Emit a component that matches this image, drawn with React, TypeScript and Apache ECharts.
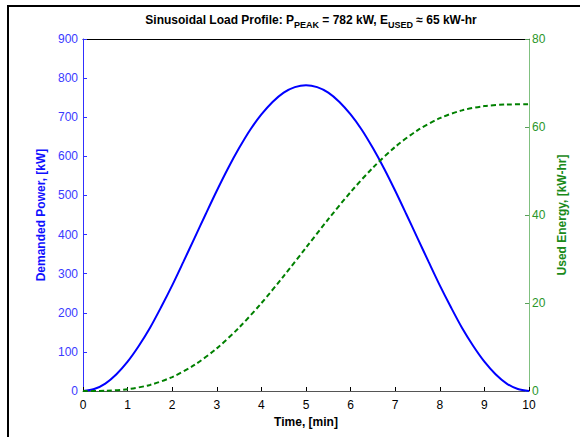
import React, { useEffect, useRef } from "react";
import * as echarts from "echarts";

const powerTime = [0, 0.25, 0.5, 0.75, 1, 1.25, 1.5, 1.75, 2, 2.25, 2.5, 2.75, 3, 3.25, 3.5, 3.75, 4, 4.25, 4.5, 4.75, 5, 5.25, 5.5, 5.75, 6, 6.25, 6.5, 6.75, 7, 7.25, 7.5, 7.75, 8, 8.25, 8.5, 8.75, 9, 9.25, 9.5, 9.75, 10];
const powerKW = [0, 5, 19, 43, 75, 115, 161, 214, 270, 330, 391, 452, 512, 569, 621, 668, 707, 739, 763, 777, 782, 777, 763, 739, 707, 668, 621, 569, 512, 452, 391, 330, 270, 214, 161, 115, 75, 43, 19, 5, 0];

const energyTime = [0, 0.5, 1, 1.5, 2, 2.5, 3, 3.5, 4, 4.5, 5, 5.5, 6, 6.5, 7, 7.5, 8, 8.5, 9, 9.5, 10];
const energyKWh = [0, 0.05, 0.42, 1.38, 3.17, 5.92, 9.69, 14.42, 19.97, 26.12, 32.58, 39.05, 45.2, 50.75, 55.48, 59.25, 62.0, 63.78, 64.75, 65.11, 65.17];

const timeTicks = { min: 0, max: 10, interval: 1 };
const powerTicks = { min: 0, max: 900, interval: 100 };
const energyTicks = { min: 0, max: 80, interval: 20 };

const FONT = "Liberation Sans, Arial, sans-serif";

export default function App() {
  const ref = useRef<HTMLDivElement>(null);
  useEffect(() => {
    if (!ref.current) return;
    const chart = echarts.init(ref.current, null, { renderer: "svg" });
    chart.setOption({
      animation: false,
      backgroundColor: "#ffffff",
      textStyle: { fontFamily: FONT },
      title: {
        text: "{m|Sinusoidal Load Profile: P}{s|PEAK}{m| = 782 kW, E}{s|USED}{m| ≈ 65 kW-hr}",
        left: 306,
        top: 6,
        textAlign: "center",
        textStyle: {
          rich: {
            m: { fontFamily: FONT, fontSize: 12, fontWeight: "bold", color: "#000", lineHeight: 18, verticalAlign: "middle" },
            s: { fontFamily: FONT, fontSize: 9, fontWeight: "bold", color: "#000", lineHeight: 9, verticalAlign: "bottom" },
          },
        },
      },
      graphic: [
        { type: "line", shape: { x1: 7, y1: 6, x2: 580, y2: 6 }, style: { stroke: "#000", lineWidth: 2 } },
        { type: "line", shape: { x1: 8, y1: 6, x2: 8, y2: 437 }, style: { stroke: "#000", lineWidth: 2 } },
      ],
      grid: { left: 83, top: 39, right: 51, bottom: 46, containLabel: false },
      xAxis: [
        {
          type: "value",
          ...timeTicks,
          position: "bottom",
          name: "Time, [min]",
          nameLocation: "middle",
          nameGap: 24,
          nameTextStyle: { fontFamily: FONT, fontSize: 12, fontWeight: "bold", color: "#000" },
          axisLine: { show: true, onZero: false, lineStyle: { color: "#555", width: 1 } },
          axisTick: { show: true, inside: true, length: 4, lineStyle: { color: "#000" } },
          axisLabel: { fontFamily: FONT, fontSize: 12, color: "#000", margin: 8 },
          splitLine: { show: false },
        },
        {
          type: "value",
          ...timeTicks,
          position: "top",
          axisLine: { show: true, onZero: false, lineStyle: { color: "#000", width: 1 } },
          axisTick: { show: false },
          axisLabel: { show: false },
          splitLine: { show: false },
        },
      ],
      yAxis: [
        {
          type: "value",
          ...powerTicks,
          position: "left",
          name: "Demanded Power, [kW]",
          nameLocation: "middle",
          nameGap: 36,
          nameRotate: 90,
          nameTextStyle: { fontFamily: FONT, fontSize: 12, fontWeight: "bold", color: "#1010ff" },
          axisLine: { show: true, onZero: false, lineStyle: { color: "#3030ff", width: 1 } },
          axisTick: { show: true, inside: true, length: 4, lineStyle: { color: "#3030ff" } },
          axisLabel: { fontFamily: FONT, fontSize: 12, color: "#3a3aff", margin: 5 },
          splitLine: { show: false },
        },
        {
          type: "value",
          ...energyTicks,
          position: "right",
          name: "Used Energy, [kW-hr]",
          nameLocation: "middle",
          nameGap: 27,
          nameRotate: 90,
          nameTextStyle: { fontFamily: FONT, fontSize: 12, fontWeight: "bold", color: "#1a8a1a" },
          axisLine: { show: true, onZero: false, lineStyle: { color: "#80c080", width: 1 } },
          axisTick: { show: true, inside: true, length: 4, lineStyle: { color: "#5aa05a" } },
          axisLabel: { fontFamily: FONT, fontSize: 12, color: "#2a962a", margin: 3 },
          splitLine: { show: false },
        },
      ],
      series: [
        {
          type: "line",
          name: "Power",
          xAxisIndex: 0,
          yAxisIndex: 0,
          data: powerTime.map((t, i) => [t, powerKW[i]]),
          smooth: 0.3,
          showSymbol: false,
          lineStyle: { color: "#0000ff", width: 2 },
          z: 3,
        },
        {
          type: "line",
          name: "Energy",
          xAxisIndex: 0,
          yAxisIndex: 1,
          data: energyTime.map((t, i) => [t, energyKWh[i]]),
          smooth: 0.3,
          showSymbol: false,
          lineStyle: { color: "#008000", width: 2, type: [5, 3] },
          z: 4,
        },
      ],
    });
    return () => chart.dispose();
  }, []);
  return (
    <div
      ref={ref}
      style={{ position: "fixed", left: 0, top: 0, width: 580, height: 437, background: "#fff" }}
    />
  );
}
